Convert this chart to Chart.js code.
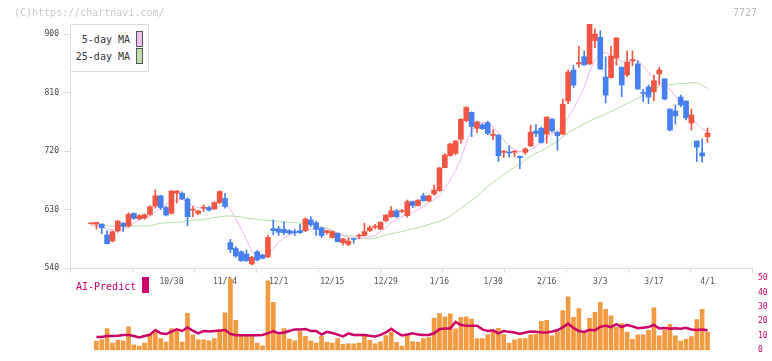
<!DOCTYPE html>
<html><head><meta charset="utf-8">
<script src="https://cdn.jsdelivr.net/npm/chart.js@4/dist/chart.umd.min.js"></script>
<style>
html,body{margin:0;padding:0;background:#fff;}
#wrap{position:relative;width:772px;height:361px;overflow:hidden;font-family:'DejaVu Sans Mono',monospace;}
canvas{position:absolute;left:0;top:0;}
.t{position:absolute;white-space:pre;line-height:1;font-family:'DejaVu Sans Mono',monospace;}
</style></head><body>
<div id="wrap">
<canvas id="cp" width="772" height="361"></canvas>
<canvas id="cv" width="772" height="361"></canvas>
<div class="t" style="left:14px;top:7.5px;font-size:10px;color:#c8c8c8">(C)https://chartnavi.com/</div>
<div class="t" style="left:733px;top:7.5px;font-size:10px;color:#bbb">7727</div>
<div style="position:absolute;left:70px;top:24px;width:77px;height:46px;border:1px solid #ddd;background:#fff;"></div>
<div class="t" style="left:70px;width:60px;text-align:right;top:34.8px;font-size:10px;color:#333">5-day MA</div>
<div class="t" style="left:70px;width:60px;text-align:right;top:51.5px;font-size:10px;color:#333">25-day MA</div>
<div style="position:absolute;left:136px;top:31px;width:5px;height:14px;border:1px solid #555;background:#f0c0f0;"></div>
<div style="position:absolute;left:136px;top:48px;width:5px;height:14px;border:1px solid #555;background:#c0e0b0;"></div>
<div class="t" style="left:76px;top:281.5px;font-size:10px;color:#cc0066">AI-Predict</div>
<div style="position:absolute;left:142px;top:277px;width:7px;height:16px;background:#cc0066;"></div>
</div>
<script>
const dates = ['10/8','10/9','10/10','10/14','10/15','10/16','10/17','10/20','10/21','10/22','10/23','10/24','10/27','10/28','10/29','10/30','10/31','11/4','11/5','11/6','11/7','11/10','11/11','11/12','11/13','11/14','11/17','11/18','11/19','11/20','11/21','11/25','11/26','11/27','11/28','12/1','12/2','12/3','12/4','12/5','12/8','12/9','12/10','12/11','12/12','12/15','12/16','12/17','12/18','12/19','12/22','12/23','12/24','12/25','12/26','12/29','12/30','1/5','1/6','1/7','1/8','1/9','1/13','1/14','1/15','1/16','1/19','1/20','1/21','1/22','1/23','1/26','1/27','1/28','1/29','1/30','2/2','2/3','2/4','2/5','2/6','2/9','2/10','2/12','2/13','2/16','2/17','2/18','2/19','2/20','2/24','2/25','2/26','2/27','3/2','3/3','3/4','3/5','3/6','3/9','3/10','3/11','3/12','3/13','3/16','3/17','3/18','3/19','3/23','3/24','3/25','3/26','3/27','3/30','3/31','4/1'];
const tickLabels = ['10/30','11/14','12/1','12/15','12/29','1/16','1/30','2/16','3/3','3/17','4/1'];
const priceTicks = [540,630,720,810,900];
const volTicks = [0,10,20,30,40,50];

const openP = [608,607.7,607.7,590.8,581.5,597,609,604.6,624,616,617,622.6,635.4,651,633,624,655,655,646,629,624,632,633,631,640.6,647,579,570,565,561.5,546.2,565,560,557,600.6,600,599.5,597.5,596,597.5,597.5,614,609.7,601.4,594.5,586.8,593.3,579,576.4,585.6,589,590,597.5,603,600,612.8,619,628,627,620.6,642,636,651,643.5,653.8,659,694.5,713,716.5,738,766.7,779.6,755,760.5,763.6,744,744.6,718,718,718,712,718,728,750.8,755,746,769,749,746,797,844.6,854,865,854,890,895,834,833,863,849,837,859,854,809.5,818.5,811,838.5,831,784.6,781.5,803,797,763,735.4,717,742];
const highP = [608,610.3,607.7,597,597,613,610,625,625,622,623,636,660,652,635,659,659,657,648,634.5,629,637,635,642,659,655,584,572.8,566.6,567.7,558,567,561,590.8,614,604,611,599,599.5,607,617,619,612,603,598,597,594,585.5,586,586.5,592,609,605,607,611,622,634.5,630,630,644.6,643,645,655,652,667.7,695,716,732,736,770,788,780,766,762,766,753,745,721,728,721,712,725,760,761,757,773,770,749.5,800,845,852,881,874,915.4,908,905,865,881,894,849,874,874,858.5,815,821.5,837,849,831,785,791,806,797,784.6,735.4,738.5,755.4];
const lowP = [608,600,593,577,580,595,596,603,615,614,615,621,632,630,620,623,640,645,605,619,622,627,628,630,639,632,563.6,556.7,550,550,544.6,551,554,556,590.8,590,590.8,592,590,593,596,604,590,587,592,586,580,575.4,574.4,578,585,589,596,600,599,611,618,617,625,618,633,635,643,642,652,658,694,712,714,732,765,742,748,753,745,737,704,710,711,711,693,715,727,742,732,732,749,721,745,793,818,849,852,853,879,846,794,832,852,803.6,834,851,815,796,793,797,821.5,798.5,751,761.5,788,767.7,752.3,703.6,703,733];
const closeP = [608,610.3,602,577.4,596,612.3,604,622.6,616.4,620.5,622,634.3,651,633,621.5,658.5,658.5,646.5,619,630.5,627.7,633,629,640.6,657.7,634.7,568.7,558.5,551.3,551.3,556.4,552.3,554.9,587,597.5,595,594.3,593.3,594.5,594.5,615.4,606.5,599.5,590,597.5,596,580.5,584.6,581.5,584,590,596,602,604,610.6,621.5,628,619,628,642,636,644.6,643.5,651,660,694,713.8,730.8,735.4,768.8,787,757.5,764.6,754.4,747,746,712.8,719,717,719,709.6,723,749,746.8,733,772,751,743.5,792,841.5,821.5,856,852.6,915,900,846,806,866,894,821.5,857,860,815.4,808.5,803,828,844.6,800,752.3,774,791,771,775.4,726,712.3,747.7];
const ma5 = [606,605,602,600,599,599,600,603,609,614,617,619,626,632,638,641,644,646,641,636,633,632,630,632,635,638,630,616,600,584,565,558,555,562,570,580,586,591,594,596,598,600,601,601,601,597,594,590,587,585,585,586,588,590,596,602,610,614,619,622,626,630,635,640,645,651,663,675,690,708,732,752,760,764,763,757,748,736,728,722,719,719,722,727,734,741,747,750,760,772,785,801,818,842,860,870,871,868,862,858,855,857,860,850,842,830,826,822,815,804,794,783,773,762,754,750];
const ma25 = [606,606,605.5,605,604.5,604.5,604.5,604.5,604.5,604.5,604.5,605,607,609,609.5,610,610.5,611,613,613.5,614,614.5,616,617.5,619,620,620,619.5,618.5,617,616,614.6,614,613,612.5,612,611,610.5,610,609,609,607,606,603,601,598,592,590,589.5,589,587,585,585,586,588,591,593,594.5,596,598.5,600,602,604.6,607,609.5,612,615,619.7,626,632,638,644,650,658,665,672,678,684,690,695,700,706,712,717,720,725,730,735,742,748,753,757,762,766,770,773,777,781,785,789,793,797,801,806,811,815,819,821,822,823,823.5,824,825,825,821,816];
const volume = [null,6.4,7.1,15,5,7,6.5,16.2,3.8,2.9,5,11.2,13.3,8.1,5.6,15,14,5.6,25.6,10.6,7.1,7.1,6.5,8.1,13.3,25.8,49.4,20.6,9.6,9.6,9.6,5,3.1,48.1,33.1,10.8,15,7.7,6.5,12.9,9.6,6.5,5,9.6,5.6,5,8.1,4,4.4,4.4,5,10.2,6.9,4.4,5.8,10.2,12.7,5.4,2.9,10.6,6,5.6,8.1,8.75,22.3,25.4,23.1,25.2,14.8,22.7,23.1,21.5,8.1,8.1,10.6,13.3,15.2,10.8,5,7.1,8.1,8.1,10.6,11.25,20,20.6,10,12.7,27.5,36.9,22.7,28.75,12.3,22.1,26.25,33.1,28.3,23.75,15.8,18.5,12.5,7.5,10.6,10.6,13.75,29.4,10,13.75,17.9,10,6.25,7.5,9.4,21.25,28.3,12.5];
const aiPredict = [null,9.2,9.2,9.8,9.8,10,10.6,10.6,9.8,8.8,9.8,10.8,14,11.7,11.2,12.9,14.4,13.3,15.8,13.5,11.7,13.3,12.9,13.3,13.7,14,11.25,10.4,10.4,10.4,10.4,10.4,10.6,11.7,13.3,11.7,12.3,13.3,14.4,14.4,14.6,13.3,13.3,10.8,12.7,11.9,10.8,9.5,11.7,10.6,10.6,10.6,10,9.5,10.6,12.3,14.8,12.3,10.2,10.8,11.7,10.8,10.6,10.6,11.7,14.6,15,15,19.6,17.5,16.9,16.9,16.9,14.4,13.3,13.75,11.7,13.3,12.7,12.3,11.25,12.3,12.9,12.7,12.2,12.2,12.9,13.8,15.8,18.5,15.4,13.3,12.7,14.2,13.75,16.2,17.1,16,18.1,16,17.5,16.5,15.2,15.6,16,17.5,15,15.4,14.8,15.2,14.8,15.5,14.4,14,14.4,13.75];

const X_MIN = -3.92, X_MAX = 123.3;
const RED = '#f25542', BLUE = '#4680f0';
const FONT = 'DejaVu Sans Mono';
const idx = dates.map((d, i) => i);
const candleColor = idx.map(i => closeP[i] >= openP[i] ? RED : BLUE);

new Chart(document.getElementById('cp'), {
  data: {
    datasets: [
      {type: 'line', label: '25-day MA', data: idx.map(i => ({x: i, y: ma25[i]})), borderColor: '#b6dca6', borderWidth: 1, pointRadius: 0, xAxisID: 'x', yAxisID: 'y', order: 3},
      {type: 'line', label: '5-day MA', data: idx.map(i => ({x: i, y: ma5[i]})), borderColor: '#ecb6ec', borderWidth: 1, pointRadius: 0, xAxisID: 'x', yAxisID: 'y', order: 2},
      {type: 'bar', label: 'range', data: idx.map(i => ({x: i, y: [lowP[i], highP[i]]})), backgroundColor: candleColor, barThickness: 1, grouped: false, minBarLength: 1, xAxisID: 'x', yAxisID: 'y', order: 1},
      {type: 'bar', label: 'body', data: idx.map(i => ({x: i, y: [Math.min(openP[i], closeP[i]), Math.max(openP[i], closeP[i])]})), backgroundColor: candleColor, barThickness: 5, grouped: false, minBarLength: 1, xAxisID: 'x', yAxisID: 'y', order: 0}
    ]
  },
  options: {
    responsive: false, animation: false, events: [],
    layout: {padding: {top: 24, right: 20, left: 0, bottom: 0}},
    plugins: {legend: {display: false}, tooltip: {enabled: false}},
    scales: {
      y: {
        type: 'linear', position: 'left', min: 540, max: 915.4,
        afterBuildTicks: s => { s.ticks = priceTicks.map(v => ({value: v})); },
        afterFit: s => { s.width = 70; },
        grid: {display: true, drawOnChartArea: false, tickLength: 6, color: '#ddd'},
        border: {color: '#ddd'},
        ticks: {font: {family: FONT, size: 8}, color: '#444', padding: 5}
      },
      xg: {
        type: 'linear', position: 'bottom', weight: 0, min: 0, max: 11, offset: false,
        afterBuildTicks: s => { s.ticks = [0,1,2,3,4,5,6,7,8,9,10,11].map(v => ({value: v})); },
        afterFit: s => { s.height = 6; },
        grid: {display: true, drawOnChartArea: false, tickLength: 5, color: '#ddd', offset: false},
        border: {color: '#ddd'},
        ticks: {display: false}
      },
      x: {
        type: 'linear', position: 'bottom', weight: 1, min: X_MIN, max: X_MAX, offset: false,
        afterBuildTicks: s => { s.ticks = tickLabels.map(l => ({value: dates.indexOf(l)})); },
        afterFit: s => { s.height = 87; },
        grid: {display: false, drawTicks: false, offset: false},
        border: {display: false},
        ticks: {callback: v => dates[v], autoSkip: false, maxRotation: 0, font: {family: FONT, size: 8}, color: '#555', padding: 3}
      }
    }
  }
});

new Chart(document.getElementById('cv'), {
  data: {
    datasets: [
      {type: 'line', label: 'AI-Predict', data: idx.map(i => ({x: i, y: aiPredict[i]})), borderColor: '#cc0066', borderWidth: 2.5, pointRadius: 0, xAxisID: 'x', yAxisID: 'yv', order: 0},
      {type: 'bar', label: 'Volume', data: idx.map(i => ({x: i, y: volume[i]})), backgroundColor: '#f29a42', barThickness: 4, xAxisID: 'x', yAxisID: 'yv', order: 1}
    ]
  },
  options: {
    responsive: false, animation: false, events: [],
    layout: {padding: {top: 278, right: 0, left: 70, bottom: 3}},
    plugins: {legend: {display: false}, tooltip: {enabled: false}},
    scales: {
      x: {type: 'linear', display: false, min: X_MIN, max: X_MAX, offset: false, grid: {offset: false}},
      yv: {
        type: 'linear', position: 'right', min: 0, max: 50,
        afterBuildTicks: s => { s.ticks = volTicks.map(v => ({value: v})); },
        afterFit: s => { s.width = 20; },
        grid: {display: false, drawTicks: false},
        border: {display: false},
        ticks: {font: {family: FONT, size: 8}, color: '#cc0066', padding: 6}
      }
    }
  }
});
</script>
</body></html>
